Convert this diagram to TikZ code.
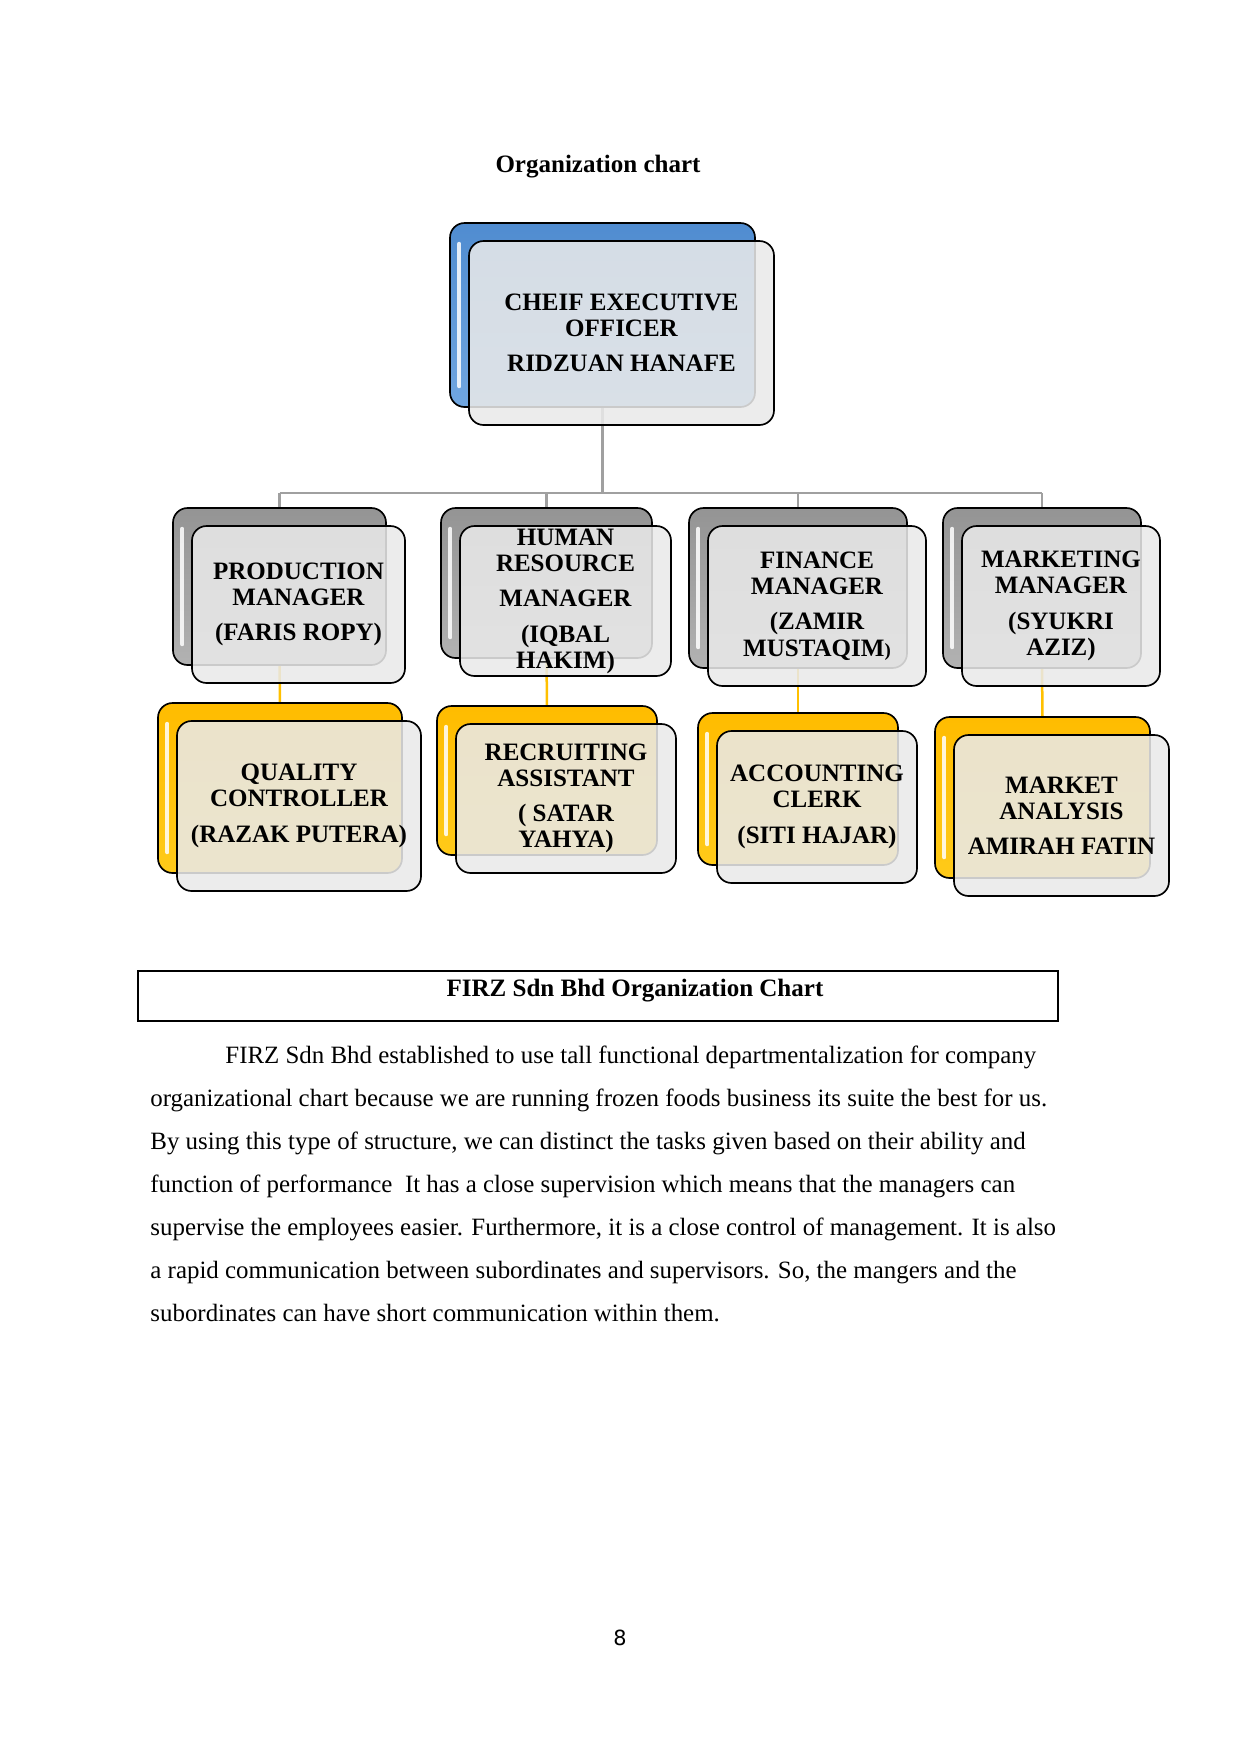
\documentclass[tikz,border=0pt]{standalone}
\usepackage{fontspec}
\setmainfont{Liberation Serif}
\newfontfamily\pnfont{DejaVu Sans}
\usetikzlibrary{backgrounds}
\definecolor{ceoA}{RGB}{80,140,208}
\definecolor{ceoB}{RGB}{112,166,224}
\definecolor{grA}{RGB}{148,148,148}
\definecolor{grB}{RGB}{178,178,178}
\definecolor{goA}{RGB}{255,188,0}
\definecolor{goB}{RGB}{255,202,25}
\definecolor{frontfill}{RGB}{233,233,233}
\definecolor{linkgray}{RGB}{160,160,160}
\definecolor{linkgold}{RGB}{255,192,0}
\tikzset{
  backbox/.style={draw=black, line width=0.8pt, rounded corners=7pt, inner sep=0pt, outer sep=0pt},
  frontbox/.style={draw=black, line width=0.8pt, rounded corners=7pt, fill=frontfill, fill opacity=0.87, inner sep=0pt, outer sep=0pt},
  boxtext/.style={align=center, inner sep=0pt, font=\bfseries\fontsize{12}{12.5}\selectfont},
  gline/.style={draw=linkgray, line width=1.1pt},
  yline/.style={draw=linkgold, line width=1.2pt},
  bodytext/.style={anchor=base west, inner sep=0pt, font=\fontsize{11.95}{14}\selectfont},
}
% #1 name, #2 x1, #3 y1, #4 x2, #5 y2 (back box, px), #6 colour prefix, #7 text
\newcommand\orgbox[7]{%
  \node[backbox, top color=#6A, bottom color=#6B,
        minimum width={(#4-#2)*0.47968pt}, minimum height={(#5-#3)*0.47968pt}]
        (#1-b) at ({(#2+#4)/2},{(#3+#5)/2}) {};
  \draw[white, line width=2pt, line cap=round, opacity=0.85]
        ([xshift=4.5pt,yshift=-10pt]#1-b.north west) -- ([xshift=4.5pt,yshift=10pt]#1-b.south west);
  \node[frontbox,
        minimum width={(#4-#2)*0.47968pt}, minimum height={(#5-#3)*0.47968pt}]
        (#1-f) at ({(#2+#4)/2+19},{(#3+#5)/2+18}) {};
  \node[boxtext] (#1-t) at (#1-f.center) {#7};
}
\begin{document}
\begin{tikzpicture}[x=0.47968pt, y=-0.47968pt]
\useasboundingbox (0,0) rectangle (1241,1754);

\node[anchor=base, inner sep=0pt, font=\bfseries\fontsize{12}{14}\selectfont] (title) at (598,172) {Organization chart};

\orgbox{ceo}{450}{223}{755}{407}{ceo}{CHEIF EXECUTIVE\\OFFICER\\[4.5pt]RIDZUAN HANAFE}

\orgbox{prod}{173}{508}{386}{665}{gr}{PRODUCTION\\MANAGER\\[4.5pt](FARIS ROPY)}
\orgbox{hr}{441}{508}{652}{658}{gr}{HUMAN\\RESOURCE\\[4.5pt]MANAGER\\[4.5pt](IQBAL\\HAKIM)}
\orgbox{fin}{689}{508}{907}{668}{gr}{FINANCE\\MANAGER\\[4.5pt](ZAMIR\\MUSTAQIM{\fontsize{9}{9}\selectfont)}}
\orgbox{mkt}{943}{508}{1141}{668}{gr}{MARKETING\\MANAGER\\[4.5pt](SYUKRI\\AZIZ)}

\orgbox{qc}{158}{703}{402}{873}{go}{QUALITY\\CONTROLLER\\[4.5pt](RAZAK PUTERA)}
\orgbox{rec}{437}{706}{657}{855}{go}{RECRUITING\\ASSISTANT\\[4.5pt]( SATAR\\YAHYA)}
\orgbox{acc}{698}{713}{898}{865}{go}{ACCOUNTING\\CLERK\\[4.5pt](SITI HAJAR)}
\orgbox{ma}{935}{717}{1150}{878}{go}{MARKET\\ANALYSIS\\[4.5pt]AMIRAH FATIN}

\coordinate (bar) at (279,493);
\begin{pgfonlayer}{background}
  \draw[gline, line width=1.5pt] (ceo-b.south) -- (ceo-b.south |- bar);
  \draw[gline] (prod-b.north |- bar) -- (mkt-b.north |- bar);
  \draw[gline] (prod-b.north |- bar) -- (prod-b.north);
  \draw[gline] (hr-b.north |- bar) -- (hr-b.north);
  \draw[gline] (fin-b.north |- bar) -- (fin-b.north);
  \draw[gline] (mkt-b.north |- bar) -- (mkt-b.north);
  \draw[yline] (prod-b.south) -- (qc-b.north);
  \draw[yline] (hr-b.south) -- (rec-b.north);
  \draw[yline] (fin-b.south) -- (acc-b.north);
  \draw[yline] (mkt-b.south) -- (ma-b.north);
\end{pgfonlayer}

\node[draw=black, line width=0.6pt, inner sep=0pt,
      minimum width={920*0.47968pt}, minimum height={50*0.47968pt}] (capbox) at (598,996) {};
\node[anchor=base, inner sep=0pt, font=\bfseries\fontsize{12}{14}\selectfont] (captext) at (635,996) {FIRZ Sdn Bhd Organization Chart};

\node[bodytext] (p1) at (225,1063) {FIRZ Sdn Bhd established to use tall functional departmentalization for company};
\node[bodytext] (p2) at (150,1106) {organizational chart because we are running frozen foods business its suite the best for us.};
\node[bodytext] (p3) at (150,1149) {By using this type of structure, we can distinct the tasks given based on their ability and};
\node[bodytext] (p4) at (150,1192) {function of performance\ \ It has a close supervision which means that the managers can};
\node[bodytext] (p5) at (150,1235) {supervise the employees easier. Furthermore, it is a close control of management. It is also};
\node[bodytext] (p6) at (150,1278) {a rapid communication between subordinates and supervisors. So, the mangers and the};
\node[bodytext] (p7) at (150,1321) {subordinates can have short communication within them.};

\node[anchor=base, inner sep=0pt, font=\pnfont\fontsize{10}{12}\selectfont] (pageno) at (620,1645) {8};
\end{tikzpicture}
\end{document}
